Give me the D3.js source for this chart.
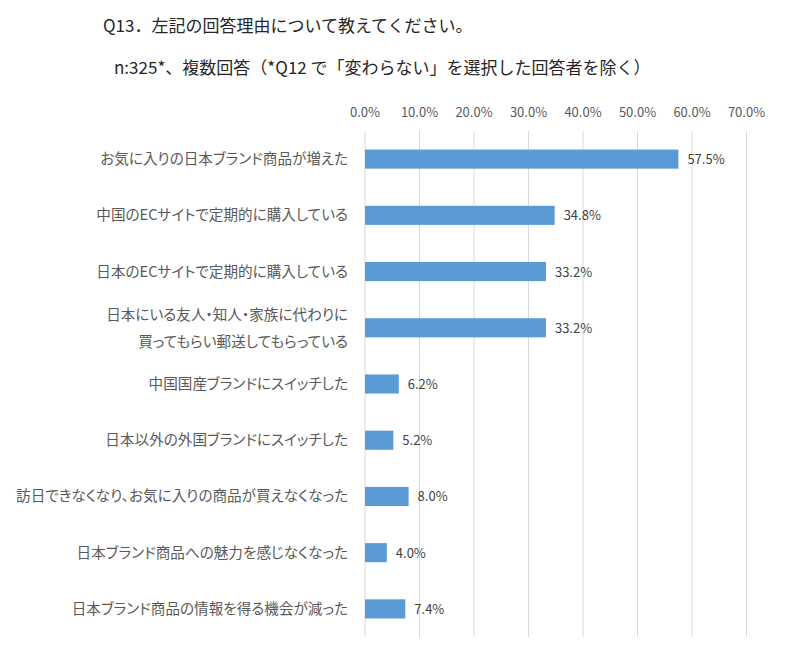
<!DOCTYPE html>
<html>
<head>
<meta charset="utf-8">
<script src="https://cdn.jsdelivr.net/npm/d3@7"></script>
<style>
  body { margin: 0; background: #fff; }
  text { font-family: "Noto Sans CJK JP", "Noto Sans", sans-serif; }
  .palt { font-feature-settings: "palt"; }
</style>
</head>
<body>
<div id="chart"></div>
<script>
// データ
var categories = [
  ["お気に入りの日本ブランド商品が増えた"],
  ["中国のECサイトで定期的に購入している"],
  ["日本のECサイトで定期的に購入している"],
  ["日本にいる友人・知人・家族に代わりに", "買ってもらい郵送してもらっている"],
  ["中国国産ブランドにスイッチした"],
  ["日本以外の外国ブランドにスイッチした"],
  ["訪日できなくなり、お気に入りの商品が買えなくなった"],
  ["日本ブランド商品への魅力を感じなくなった"],
  ["日本ブランド商品の情報を得る機会が減った"]
];
var values = [57.5, 34.8, 33.2, 33.2, 6.2, 5.2, 8.0, 4.0, 7.4];
var ticks = [0, 10, 20, 30, 40, 50, 60, 70];

var W = 788, H = 653;
var svg = d3.select("#chart").append("svg")
  .attr("width", W).attr("height", H);

// タイトル
svg.append("text").attr("x", 103).attr("y", 32)
  .attr("font-size", 17).attr("fill", "#262626")
  .text("Q13．左記の回答理由について教えてください。");
svg.append("text").attr("x", 114).attr("y", 74)
  .attr("font-size", 17).attr("fill", "#262626")
  .text("n:325*、複数回答（*Q12 で「変わらない」を選択した回答者を除く）");

// スケール
var x = d3.scaleLinear().domain([0, 70]).range([365, 746.5]);
var y = d3.scaleBand().domain(d3.range(values.length)).range([131, 637]).paddingInner(0.66).paddingOuter(0.33);

// グリッド線
svg.append("g").selectAll("line").data(ticks).enter().append("line")
  .attr("x1", function(d) { return x(d); }).attr("x2", function(d) { return x(d); })
  .attr("y1", 131).attr("y2", 637)
  .attr("stroke", "#d9d9d9").attr("stroke-width", 1);

// 目盛りラベル
svg.append("g").selectAll("text").data(ticks).enter().append("text")
  .attr("x", function(d) { return x(d); }).attr("y", 117)
  .attr("text-anchor", "middle").attr("font-size", 13).attr("fill", "#595959")
  .text(function(d) { return d.toFixed(1) + "%"; });

// 棒
svg.append("g").selectAll("rect").data(values).enter().append("rect")
  .attr("x", x(0))
  .attr("y", function(d, i) { return y(i); })
  .attr("width", function(d) { return x(d) - x(0); })
  .attr("height", y.bandwidth())
  .attr("fill", "#5b9bd5");

// 値ラベル
svg.append("g").selectAll("text").data(values).enter().append("text")
  .attr("x", function(d) { return x(d) + 9; })
  .attr("y", function(d, i) { return y(i) + y.bandwidth() / 2 + 5; })
  .attr("font-size", 13).attr("fill", "#404040")
  .text(function(d) { return d.toFixed(1) + "%"; });

// カテゴリラベル
var cat = svg.append("g").selectAll("text").data(categories).enter().append("text")
  .attr("class", "palt")
  .attr("text-anchor", "end").attr("font-size", 14.6).attr("fill", "#595959")
  .attr("y", function(d, i) {
    var c = y(i) + y.bandwidth() / 2 + 5;
    return d.length > 1 ? c - 13 : c;
  });
cat.selectAll("tspan").data(function(d) { return d; }).enter().append("tspan")
  .attr("x", 348)
  .attr("dy", function(d, j) { return j ? 27 : 0; })
  .text(function(d) { return d; });
</script>
</body>
</html>
